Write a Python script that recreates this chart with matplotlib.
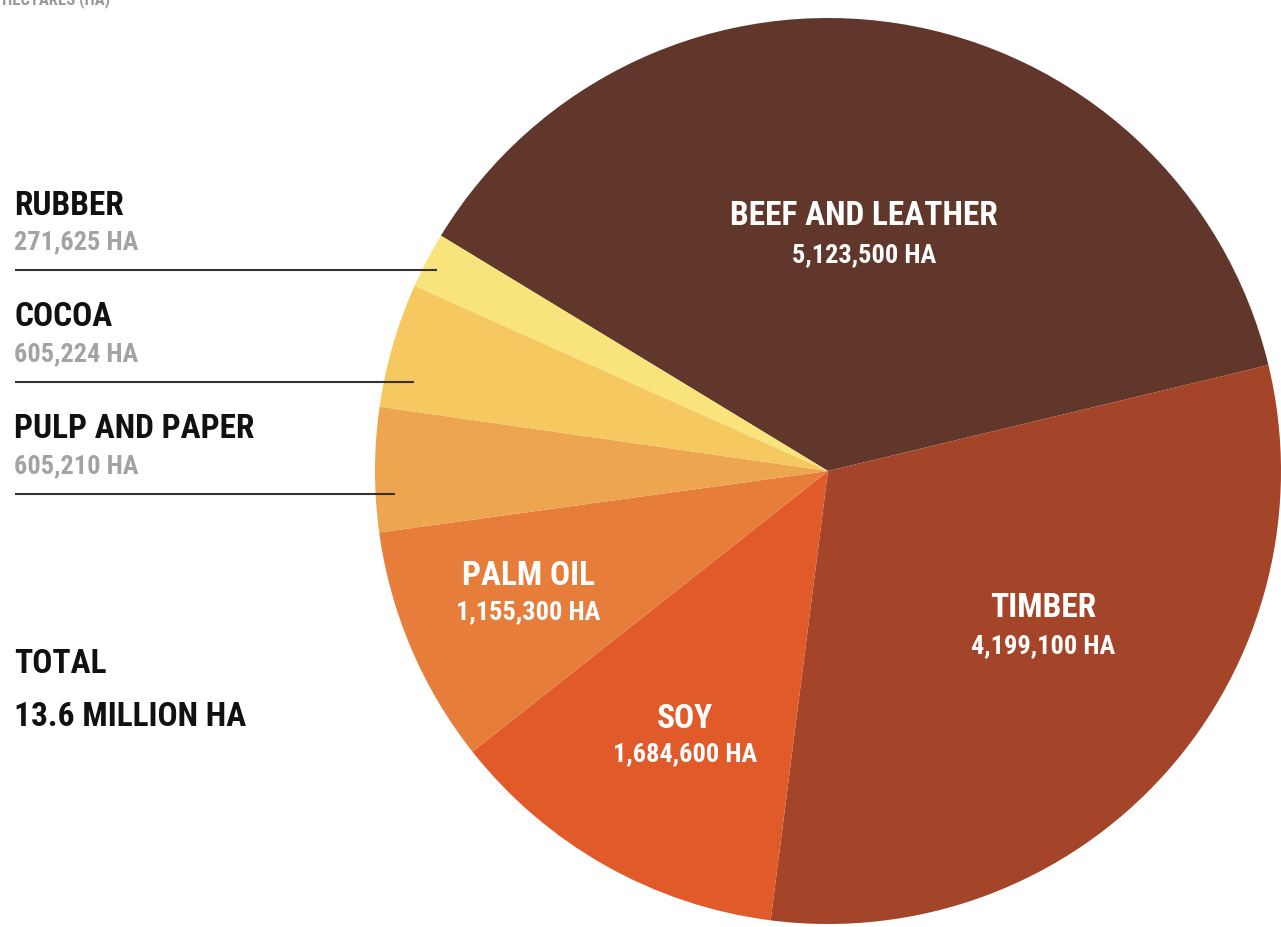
import matplotlib
matplotlib.use("Agg")
import matplotlib.pyplot as plt
from matplotlib import font_manager

# ---- data ----
categories = ["BEEF AND LEATHER", "TIMBER", "SOY", "PALM OIL",
              "PULP AND PAPER", "COCOA", "RUBBER"]
hectares = [5123500, 4199100, 1684600, 1155300, 605210, 605224, 271625]
colors = ["#61372C", "#A44428", "#E15A29", "#E77D3B", "#EEA54F", "#F6C860", "#F8E47B"]
value_labels = [f"{v:,} HA" for v in hectares]
total_label = "13.6 MILLION HA"

W, H = 1281, 928

avail = {f.name for f in font_manager.fontManager.ttflist}
family = "DejaVu Sans"
for cand in ["Roboto Condensed", "Open Sans Condensed", "Liberation Sans Narrow", "DejaVu Sans"]:
    if cand in avail:
        family = cand
        break
plt.rcParams["font.family"] = [family, "DejaVu Sans"]

fig = plt.figure(figsize=(W / 100, H / 100), dpi=100)
ax = fig.add_axes([0, 0, 1, 1])

cx, cy, R = 828, H - 472, 453
wedges, _ = ax.pie(hectares, colors=colors, startangle=148.7, counterclock=False,
                   center=(cx, cy), radius=R, frame=True,
                   wedgeprops=dict(linewidth=0))
ax.set_xlim(0, W)
ax.set_ylim(0, H)
ax.set_aspect("equal")
ax.axis("off")

def Y(y):
    return H - y

big = 24
small = 19
# labels inside wedges
inside = {0: (864, 216, 255), 1: (1043, 608, 646), 2: (685, 719, 754), 3: (528, 576, 612)}
for i, (x, y1, y2) in inside.items():
    ax.text(x, Y(y1), categories[i], color="white", fontsize=big, fontweight="bold",
            ha="center", va="center")
    ax.text(x, Y(y2), value_labels[i], color="white", fontsize=small, fontweight="bold",
            ha="center", va="center")

# side labels
side = {6: (206, 242, 271, 437), 5: (317, 354, 383, 414), 4: (429, 466, 495, 395)}
for i, (y1, y2, yl, xend) in side.items():
    ax.text(14, Y(y1), categories[i], color="#111111", fontsize=big, fontweight="bold",
            ha="left", va="center")
    ax.text(14, Y(y2), value_labels[i], color="#A3A3A3", fontsize=small, fontweight="bold",
            ha="left", va="center")
    ax.plot([15, xend], [Y(yl), Y(yl)], color="#333333", lw=1.5, solid_capstyle="butt")

ax.text(14, Y(664), "TOTAL", color="#111111", fontsize=big, fontweight="bold",
        ha="left", va="center")
ax.text(14, Y(717), total_label, color="#111111", fontsize=big, fontweight="bold",
        ha="left", va="center")

ax.text(2, Y(8), "HECTARES (HA)", color="#9A9A9A", fontsize=12, fontweight="bold",
        ha="left", va="bottom")

fig.savefig("out.png", dpi=100)
